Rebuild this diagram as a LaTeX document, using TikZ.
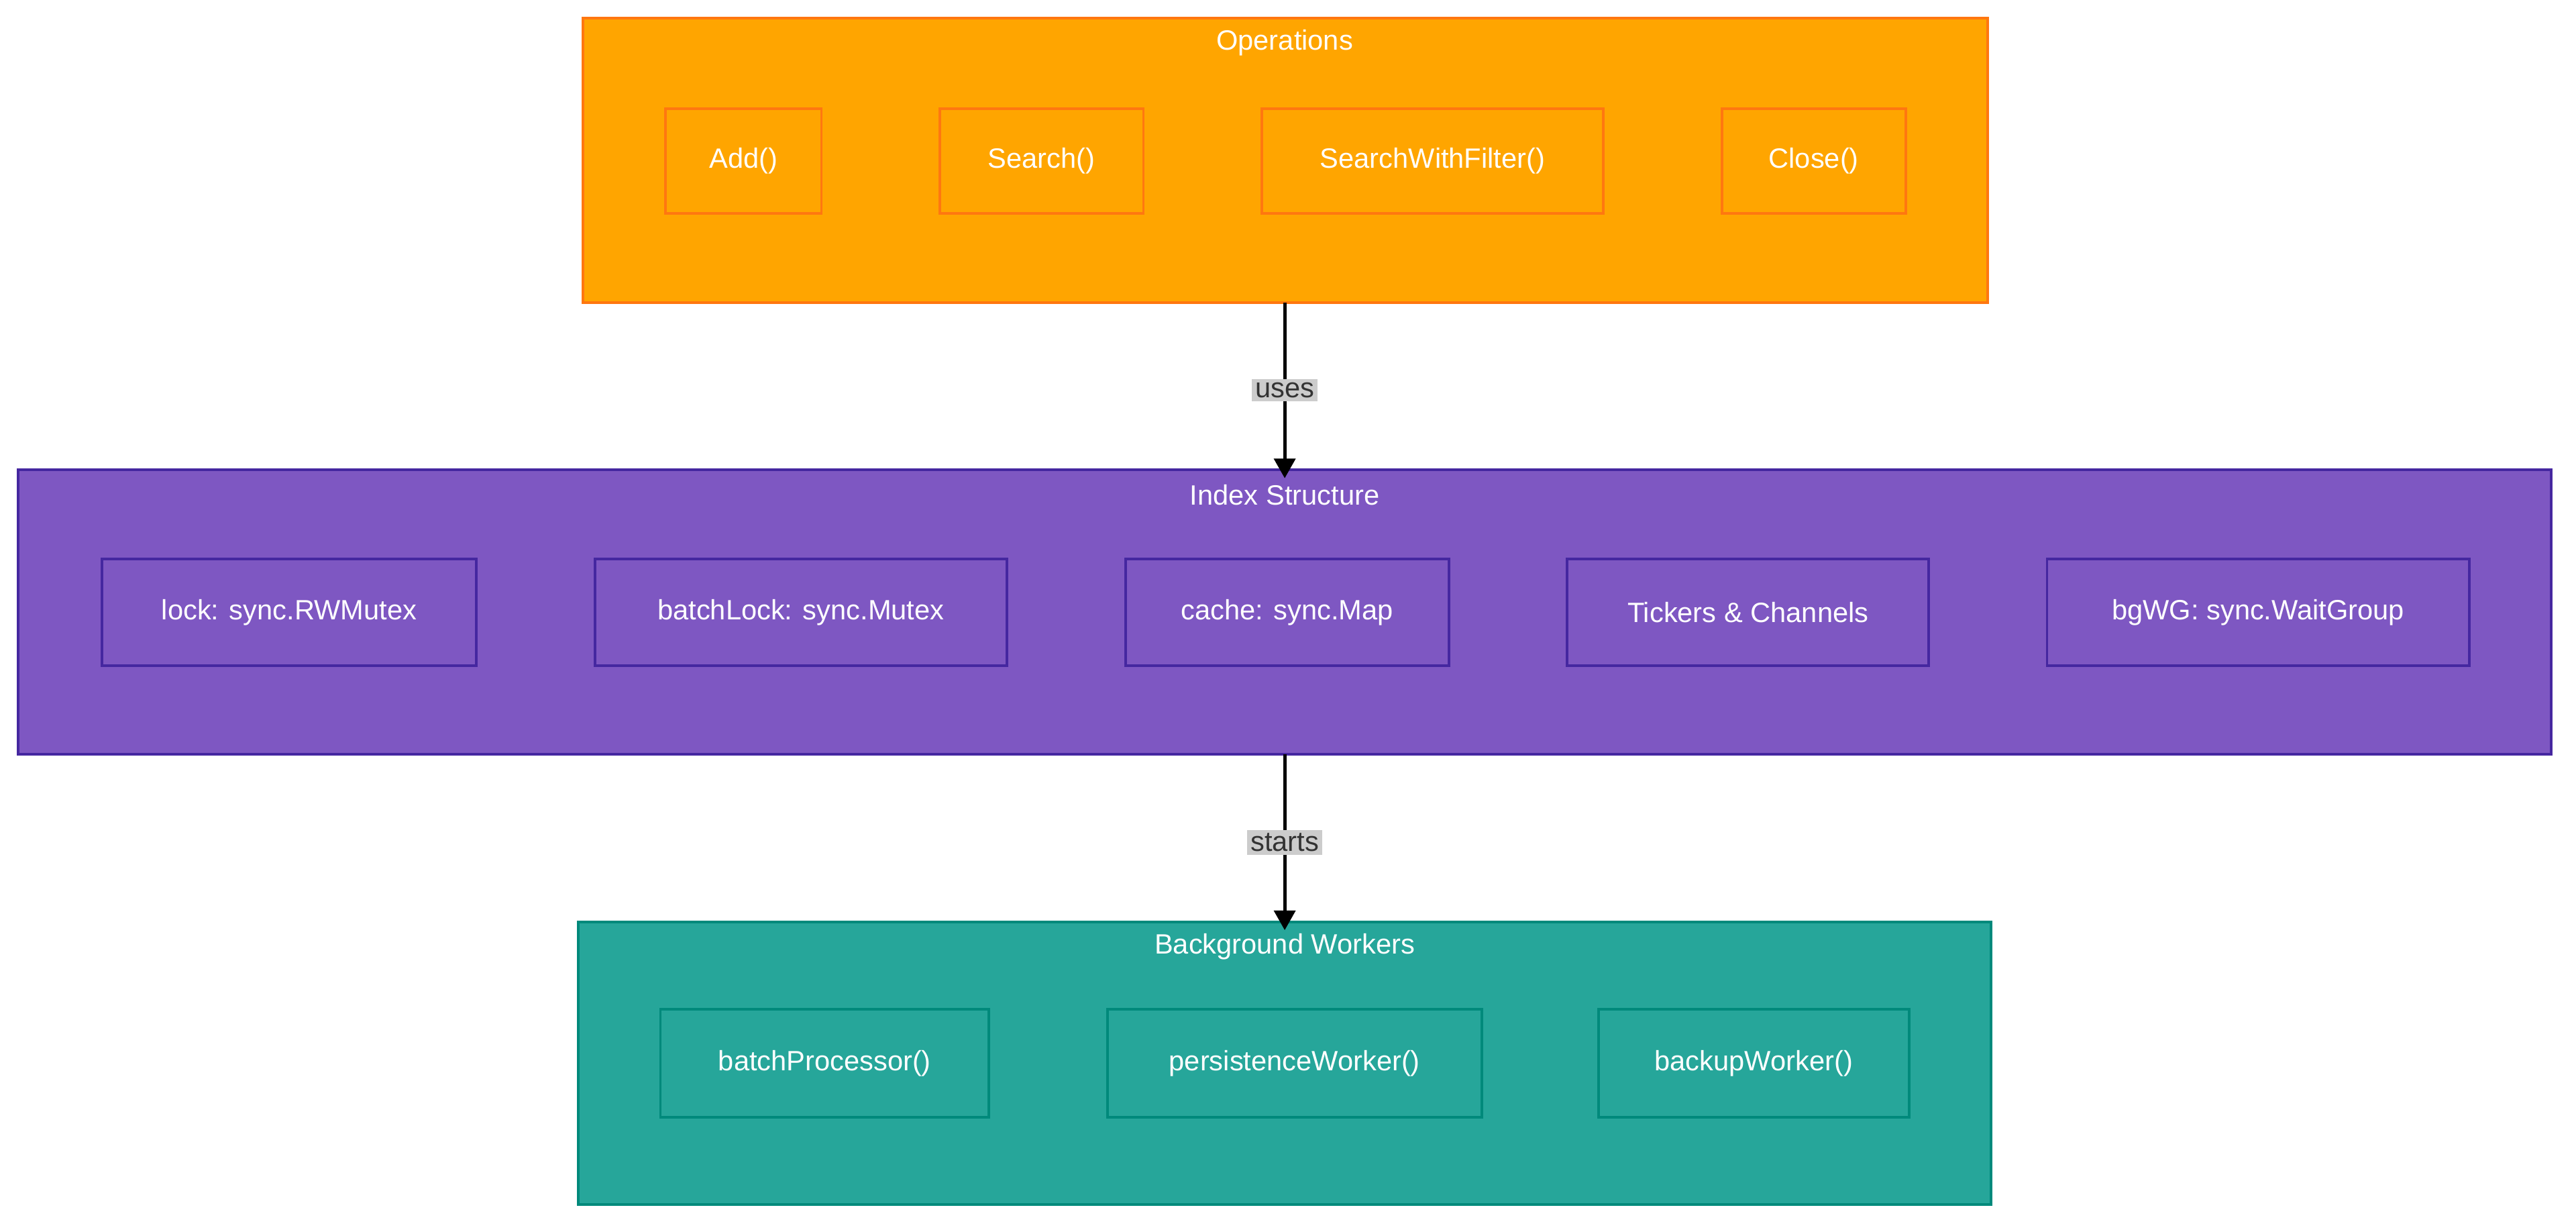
\documentclass[tikz,border=0pt]{standalone}
\usepackage{fontspec}
\setmainfont{Liberation Sans}
\usetikzlibrary{arrows.meta}
\definecolor{opf}{HTML}{FFA500}\definecolor{opd}{HTML}{FF7710}
\definecolor{inf}{HTML}{7E57C2}\definecolor{ind}{HTML}{4527A0}
\definecolor{bgf}{HTML}{26A69A}\definecolor{bgd}{HTML}{00897B}
\begin{document}
\begin{tikzpicture}[x=1pt,y=-1pt,
 grp/.style={draw=#1,line width=1.6pt},
 box/.style={draw=#1,line width=1.6pt,font=\fontsize{17}{20}\selectfont,text=white},
 ttl/.style={font=\fontsize{17}{20}\selectfont,text=white},
 arr/.style={line width=2pt,-{Triangle[length=12pt,width=13pt]}},
 lbl/.style={fill=black!20,font=\fontsize{17}{20}\selectfont,text=black!80,inner sep=2pt}]
\useasboundingbox (0,0) rectangle (1568,747);
% Operations
\filldraw[grp=opd,fill=opf] (355,11) rectangle (1210,184);
\node[ttl] (opt) at (782,26) {Operations};
\foreach \n/\a/\b/\t in {add/405/500/Add(),srch/572/696/Search(),swf/768/976/SearchWithFilter(),cls/1048/1160/Close()}{
 \filldraw[box=opd,fill=opf] (\a,66) rectangle (\b,130);
 \node[ttl] (\n) at ({(\a+\b)/2},98) {\t};}
\coordinate (opb) at (782,184);
% Index
\filldraw[grp=ind,fill=inf] (11,286) rectangle (1553,459);
\node[ttl] (ixt) at (782,301) {Index Structure};
\foreach \n/\a/\b/\t in {lk/62/290/{lock: sync.RWMutex},bl/362/613/{batchLock: sync.Mutex},ch/685/882/{cache: sync.Map},tc/954/1174/{Tickers \& Channels},wg/1246/1503/{bgWG: sync.WaitGroup}}{
 \filldraw[box=ind,fill=inf] (\a,340) rectangle (\b,405);
 \node[ttl] (\n) at ({(\a+\b)/2},372.5) {\t};}
\coordinate (ixtop) at (782,286);
\coordinate (ixb) at (782,459);
% Background
\filldraw[grp=bgd,fill=bgf] (352,561) rectangle (1212,733);
\node[ttl] (bgt) at (782,576) {Background Workers};
\foreach \n/\a/\b/\t in {bp/402/602/batchProcessor(),pw/674/902/persistenceWorker(),bw/973/1162/backupWorker()}{
 \filldraw[box=bgd,fill=bgf] (\a,614) rectangle (\b,680);
 \node[ttl] (\n) at ({(\a+\b)/2},647) {\t};}
\coordinate (bgtop) at (782,561);
\draw[arr] (opb) -- node[lbl,pos=0.5]{uses} ([yshift=-5]ixtop);
\draw[arr] (ixb) -- node[lbl,pos=0.5]{starts} ([yshift=-5]bgtop);
\end{tikzpicture}
\end{document}
